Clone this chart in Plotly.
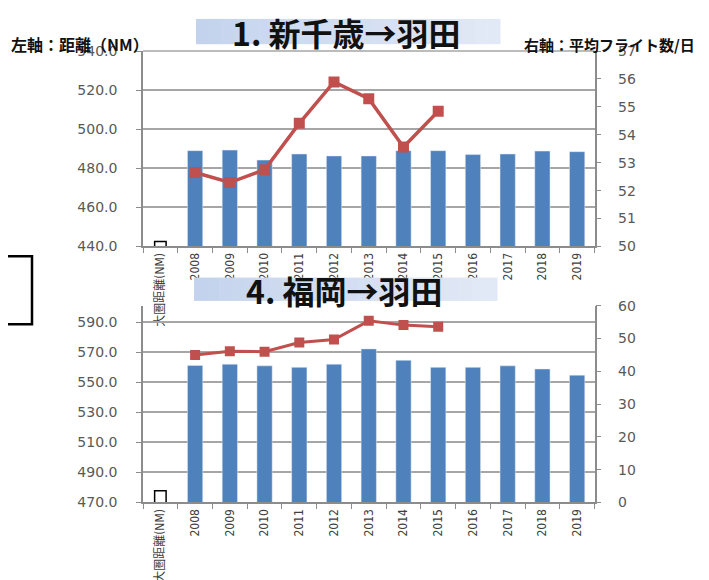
import plotly.graph_objects as go

W, H = 709, 580
OFF = 8  # page body margin offset in the browser

categories = ["大圏距離(NM)", "2008", "2009", "2010", "2011", "2012", "2013",
              "2014", "2015", "2016", "2017", "2018", "2019"]
years = categories[1:]

# Chart 1: 新千歳→羽田
c1_distance = [489.0, 489.3, 484.2, 487.3, 486.3, 486.3, 489.0, 489.0, 487.0, 487.3, 488.8, 488.5]
c1_flights = [52.65, 52.29, 52.75, 54.41, 55.89, 55.29, 53.56, 54.84]
c1_header_value = [442.5]

# Chart 2: 福岡→羽田
c2_distance = [561.3, 562.1, 561.0, 560.0, 562.1, 572.3, 564.7, 560.0, 560.0, 561.0, 558.9, 554.8]
c2_flights = [45.0, 46.1, 46.0, 48.8, 49.7, 55.4, 54.1, 53.6]
c2_header_value = [477.8]

title1 = "1. 新千歳→羽田"
title2 = "4. 福岡→羽田"
left_label = "左軸：距離（NM）"
right_label = "右軸：平均フライト数/日"

BAR = "#4f81bd"
LINE = "#c0504d"
GRID = "#a6a6a6"
AX = "#8c8c8c"
TICKC = "#595959"
XFONT = "Liberation Sans Narrow, DejaVu Sans Condensed, Noto Sans CJK JP"
YFONT = "DejaVu Sans"
CJK = "Noto Sans CJK JP"


def px(x):
    return (x - OFF) / W


def py(y):
    return 1 - (y - OFF) / H


fig = go.Figure()

# chart 1 traces
fig.add_trace(go.Bar(x=years, y=c1_distance, marker_color=BAR, width=0.44,
                     xaxis="x", yaxis="y", showlegend=False))
fig.add_trace(go.Bar(x=categories[:1], y=c1_header_value, width=0.33,
                     marker=dict(color="white", line=dict(color="black", width=1.5)),
                     xaxis="x", yaxis="y", showlegend=False))
fig.add_trace(go.Scatter(x=years[:len(c1_flights)], y=c1_flights, mode="lines+markers",
                         line=dict(color=LINE, width=3.5),
                         marker=dict(symbol="square", size=11, color=LINE),
                         xaxis="x", yaxis="y2", showlegend=False))

# chart 2 traces
fig.add_trace(go.Bar(x=years, y=c2_distance, marker_color=BAR, width=0.44,
                     xaxis="x2", yaxis="y3", showlegend=False))
fig.add_trace(go.Bar(x=categories[:1], y=c2_header_value, width=0.33,
                     marker=dict(color="white", line=dict(color="black", width=1.5)),
                     xaxis="x2", yaxis="y3", showlegend=False))
fig.add_trace(go.Scatter(x=years[:len(c2_flights)], y=c2_flights, mode="lines+markers",
                         line=dict(color=LINE, width=3),
                         marker=dict(symbol="square", size=10, color=LINE),
                         xaxis="x2", yaxis="y4", showlegend=False))

xdom = [px(143), px(594.5)]
dom1 = [py(245), py(44)]
dom2 = [py(508.3), py(306)]

xcommon = dict(type="category", categoryorder="array", categoryarray=categories,
               range=[-0.5, 12.5], showline=True, linecolor=AX, linewidth=1.5,
               ticks="outside", tickson="boundaries", ticklen=5, tickcolor=AX,
               tickangle=-90, tickfont=dict(family=XFONT, size=12, color="#404040"),
               showgrid=False, domain=xdom, fixedrange=True)

ycommon = dict(showline=True, linecolor=AX, linewidth=1.5, ticks="outside", ticklen=5,
               tickcolor=AX, tickfont=dict(family=YFONT, size=14, color=TICKC),
               zeroline=False, fixedrange=True)

fig.update_layout(
    width=W, height=H, margin=dict(l=0, r=0, t=0, b=0),
    paper_bgcolor="white", plot_bgcolor="white",
    barmode="overlay", showlegend=False,
    xaxis=dict(**xcommon, anchor="y"),
    yaxis=dict(**ycommon, domain=dom1, range=[440, 540], dtick=20, tick0=440,
               tickformat=".1f", showgrid=True, gridcolor=GRID, gridwidth=1.5,
               ticklabelstandoff=16, anchor="x"),
    yaxis2=dict(**ycommon, overlaying="y", side="right", range=[50, 57], dtick=1,
                showgrid=False, ticklabelstandoff=14, anchor="x"),
    xaxis2=dict(**xcommon, anchor="y3"),
    yaxis3=dict(**ycommon, domain=dom2, range=[470, 601], dtick=20, tick0=470,
                tickformat=".1f", showgrid=True, gridcolor=GRID, gridwidth=1.5,
                ticklabelstandoff=16, anchor="x2"),
    yaxis4=dict(**ycommon, overlaying="y3", side="right", range=[0, 60], dtick=10,
                showgrid=False, ticklabelstandoff=14, anchor="x2"),
)

shapes = []
annotations = []

# top border gridline of chart 1 (at 540)
shapes.append(dict(type="line", xref="x domain", yref="paper", x0=0, x1=1,
                   y0=dom1[1], y1=dom1[1], line=dict(color=GRID, width=1.5),
                   layer="below"))


def title_box(x0, x1, y0, y1, text, cy, cx):
    n = 24
    c0 = (196, 211, 237)
    c1 = (226, 233, 246)
    for i in range(n):
        t = i / (n - 1)
        col = tuple(int(round(c0[k] + (c1[k] - c0[k]) * t)) for k in range(3))
        xa = x0 + (x1 - x0) * i / n
        xb = x0 + (x1 - x0) * (i + 1) / n + 0.5
        shapes.append(dict(type="rect", xref="paper", yref="paper",
                           x0=px(xa), x1=px(xb), y0=py(y1), y1=py(y0),
                           fillcolor="rgb(%d,%d,%d)" % col, line=dict(width=0),
                           layer="above"))
    annotations.append(dict(text="<b>%s</b>" % text, xref="paper", yref="paper",
                            x=px(cx), y=py(cy), showarrow=False,
                            xanchor="center", yanchor="middle",
                            font=dict(family=CJK, size=32, color="#111111")))


title_box(196, 500, 11, 37, title1, 24, 346)
title_box(194, 497, 277, 301, title2, 290, 344)

annotations.append(dict(text="<b>%s</b>" % left_label, xref="paper", yref="paper",
                        x=px(9), y=py(37), showarrow=False, xanchor="left",
                        yanchor="middle",
                        font=dict(family=CJK, size=16, color="#111111")))
annotations.append(dict(text="<b>%s</b>" % right_label, xref="paper", yref="paper",
                        x=px(522), y=py(37), showarrow=False, xanchor="left",
                        yanchor="middle",
                        font=dict(family=CJK, size=15, color="#111111")))

# frame at left edge
shapes.append(dict(type="rect", xref="paper", yref="paper", x0=-0.02, x1=px(32),
                   y0=py(325), y1=py(255), line=dict(color="black", width=2.5),
                   fillcolor="rgba(0,0,0,0)", layer="above"))

fig.update_layout(shapes=shapes, annotations=annotations)

fig.write_html("out.html", config={"displayModeBar": False})
